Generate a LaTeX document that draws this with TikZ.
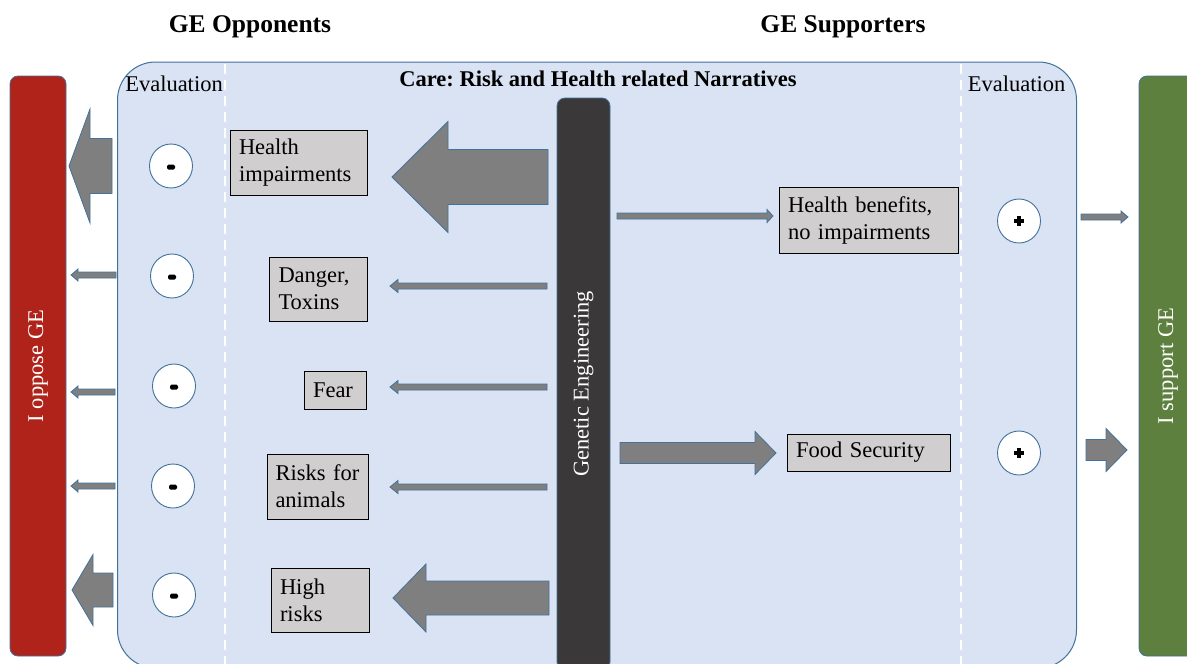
\documentclass[tikz,border=0pt]{standalone}
\usepackage{fontspec}
\setmainfont{Liberation Serif}
\frenchspacing
\usetikzlibrary{shapes.geometric}
\definecolor{mainfill}{HTML}{DAE3F3}
\definecolor{bluel}{HTML}{41719C}
\definecolor{boxgray}{HTML}{D0CECE}
\definecolor{arrgray}{HTML}{7F7F7F}
\definecolor{oppred}{HTML}{B0231A}
\definecolor{supgreen}{HTML}{5E803E}
\definecolor{gedark}{HTML}{3A3838}
\newcommand\harrow[6]{\draw[arr] (#1,#3-#4) -- (#6,#3-#4) -- (#6,#3-#5) -- (#2,#3) -- (#6,#3+#5) -- (#6,#3+#4) -- (#1,#3+#4) -- cycle;}
\tikzset{
  txt/.style={font=\fontsize{22.5}{27}\selectfont, inner sep=0pt},
  btxt/.style={font=\fontsize{22.5}{27}\selectfont\bfseries, inner sep=0pt},
  ttl/.style={font=\fontsize{25.5}{30}\selectfont\bfseries, inner sep=0pt},
  arr/.style={fill=arrgray, draw=bluel, line width=0.8pt, line join=miter},
  gbox/.style={draw=black, fill=boxgray, line width=0.9pt, inner ysep=0pt, inner xsep=9pt,
    font=\fontsize{22.5}{27}\selectfont, align=left},
  evalc/.style={ellipse, draw=bluel, fill=white, line width=0.9pt, minimum width=43pt, minimum height=44pt, inner sep=0pt},
  minus/.style={rectangle, fill=black, minimum width=8pt, minimum height=5pt, inner sep=0pt, rounded corners=1.5pt},
  bar/.style={draw=bluel, line width=0.8pt, rotate=90, rounded corners=8pt, text=white, inner sep=0pt,
    font=\fontsize{22.5}{27}\selectfont},
  sepline/.style={white, line width=2.5pt, dash pattern=on 10pt off 6pt},
}
\begin{document}
\begin{tikzpicture}[x=1pt,y=-1pt]
\useasboundingbox (0,0) rectangle (1187,664);
\clip (0,0) rectangle (1187,664);
% titles
\node[ttl] (topp) at (250,27) {GE Opponents};
\node[ttl] (tsup) at (843,27) {GE Supporters};
% main box
\draw[draw=bluel, line width=1pt, fill=mainfill, rounded corners=38pt] (117.5,62) rectangle (1076.5,668);
\draw[sepline] (225,64) -- (225,664);
\draw[sepline] (961,64) -- (961,664);
\node[txt, anchor=base] (evl) at (174,91) {Evaluation};
\node[txt, anchor=base] (evr) at (1016.5,91) {Evaluation};
\node[btxt, anchor=base] (care) at (598,86) {Care: Risk and Health related Narratives};
% side bars
\node[bar, fill=oppred, minimum width=580pt, minimum height=56pt] (oppose) at (38,366) {I oppose GE};
\node[bar, fill=supgreen, minimum width=580pt, minimum height=58pt] (support) at (1168,366) {I support GE};
\node[bar, fill=gedark, minimum width=572pt, minimum height=53pt] (ge) at (583.5,384) {Genetic Engineering};
% boxes
\node[gbox, text width=119pt, minimum height=65pt] (hi) at (298.5,162.5) {Health\\impairments};
\node[gbox, text width=80pt, minimum height=64pt] (dt) at (318.5,289) {Danger,\\Toxins};
\node[gbox, text width=44pt, minimum height=38pt] (fear) at (335,390) {Fear};
\node[gbox, inner xsep=8.5pt, text width=84pt, minimum height=65pt] (ra) at (317.5,486.5) {Risks for\\animals};
\node[gbox, text width=80pt, minimum height=64pt] (hr) at (320,600) {High\\risks};
\node[gbox, text width=161pt, minimum height=66pt] (hb) at (868.5,220) {Health benefits,\\no impairments};
\node[gbox, text width=145pt, minimum height=37pt] (fs) at (868.5,452.5) {Food Security};
% evaluation circles
\node[evalc] (e1) at (171,166) {};
\node[evalc] (e2) at (172,276) {};
\node[evalc] (e3) at (174,386) {};
\node[evalc] (e4) at (173,486) {};
\node[evalc] (e5) at (174,595) {};
\foreach \n in {e1,e2,e3,e4,e5} \node[minus] at ([yshift=-1pt]\n.center) {};
\node[evalc] (p1) at (1019,221) {};
\node[evalc] (p2) at (1019,453) {};
\foreach \n in {p1,p2} {
  \draw[line width=3.5pt] ([xshift=-5pt]\n.center) -- ([xshift=5pt]\n.center);
  \draw[line width=3.5pt] ([yshift=-5pt]\n.center) -- ([yshift=5pt]\n.center);
}
% arrows from GE to narratives
\harrow{548}{392}{177}{27.5}{55.5}{448}
\harrow{547}{390}{286}{3}{6.5}{398}
\harrow{547}{390}{387}{3}{6.5}{398}
\harrow{547}{390}{487}{3}{6.5}{398}
\harrow{549}{393}{598}{17}{34}{426}
\harrow{617}{773}{216}{3}{6.5}{767}
\harrow{620}{776}{453}{10.5}{21.5}{755}
% arrows to positions
\harrow{112}{69}{166}{27.5}{57}{90}
\harrow{116}{71}{275}{3}{6}{78}
\harrow{115}{71}{392}{3}{6}{78}
\harrow{115}{71}{486}{3}{6}{78}
\harrow{113}{72}{590}{17}{35.5}{93}
\harrow{1081}{1128}{217}{3}{6}{1121}
\harrow{1086}{1127}{450}{10.5}{21.5}{1106}
\end{tikzpicture}
\end{document}
